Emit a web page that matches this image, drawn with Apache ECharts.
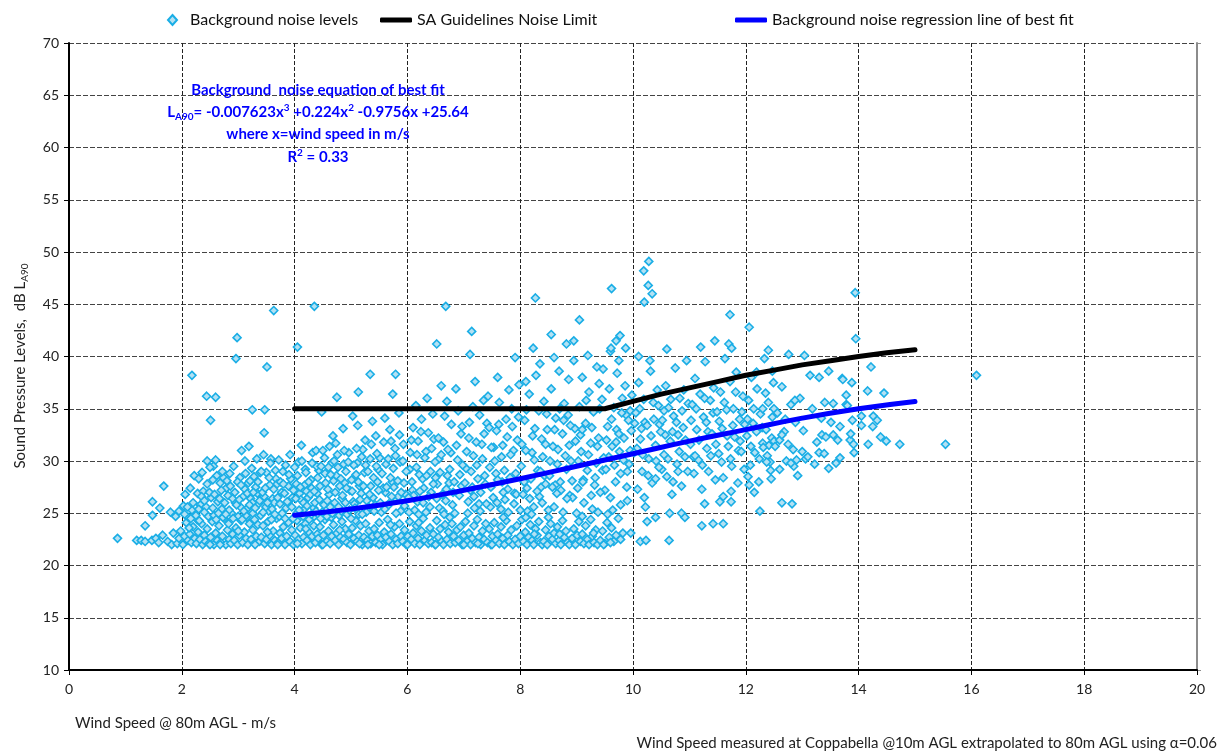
<!DOCTYPE html>
<html><head><meta charset="utf-8">
<script src="https://cdn.jsdelivr.net/npm/echarts@6/dist/echarts.min.js"></script>
<style>html,body{margin:0;padding:0;background:#fff}#chart{width:1229px;height:754px}</style>
</head><body><div id="chart"></div>
<script>
// ---- axis settings ----
const xRange = [0, 20], xStep = 2;
const yRange = [10, 70], yStep = 5;

// ---- series names ----
const seriesNames = ['Background noise levels', 'SA Guidelines Noise Limit', 'Background noise regression line of best fit'];

// ---- SA guideline limit ----
const saWindSpeed = [4, 5, 6, 7, 8, 9, 9.5, 10, 10.5, 11, 11.5, 12, 12.5, 13, 13.5, 14, 14.5, 15];
const saLimit = [35, 35, 35, 35, 35, 35, 35, 35.7, 36.4, 37.0, 37.6, 38.2, 38.7, 39.2, 39.6, 40.0, 40.35, 40.65];

// ---- regression line ----
const regWindSpeed = [4, 5, 6, 7, 8, 9, 10, 11, 12, 13, 14, 15];
const regLevel = [24.8, 25.4, 26.2, 27.2, 28.3, 29.5, 30.7, 31.9, 33.0, 34.1, 35.0, 35.7];

// ---- background noise measurements [wind speed, dB] ----
const noiseLowWind = [[0.86,22.6],[1.2,22.4],[1.28,22.4],[1.35,22.3],[1.47,22.4],[1.54,22.6],[1.59,22.2],[1.66,22.9],[1.35,23.8],[1.48,24.8],[1.61,25.5],[1.48,26.1],[1.68,27.6],[1.8,25.1],[1.89,24.7],[1.85,23.1],[1.75,22.3],[1.82,22.0]];

const noiseFloor = [
[1.92,22.1],[1.95,22.6],[1.98,23.3],[2.02,22.0],[2.05,22.8],[2.08,24.1],[2.11,22.4],[2.14,23.0],[2.17,22.2],[2.2,23.7],[2.23,22.6],[2.26,22.1],[2.29,23.2],[2.32,22.5],[2.35,24.0],[2.37,22.0],[2.4,22.9],[2.13,23.6],[2.27,24.4],
[2.42,22.3],[2.45,23.5],[2.48,22.1],[2.51,22.7],[2.54,24.2],[2.57,22.0],[2.6,23.1],[2.63,22.4],[2.66,23.8],[2.69,22.2],[2.72,22.8],[2.75,24.5],[2.78,22.0],[2.81,23.4],[2.84,22.5],[2.87,22.1],[2.9,23.0],[2.5,22.0],[2.68,22.0],[2.83,24.0],
[2.93,22.4],[2.96,23.6],[2.99,22.0],[3.02,22.9],[3.05,24.3],[3.08,22.2],[3.11,23.2],[3.14,22.6],[3.17,22.0],[3.2,24.0],[3.23,22.5],[3.26,23.4],[3.29,22.1],[3.32,22.8],[3.35,23.9],[3.38,22.3],[3.0,23.3],[3.15,24.6],[3.3,22.0],
[3.41,22.7],[3.44,23.8],[3.47,22.1],[3.5,22.5],[3.53,24.2],[3.56,22.9],[3.59,22.0],[3.62,23.3],[3.65,22.4],[3.68,24.5],[3.71,22.2],[3.74,23.1],[3.77,22.6],[3.8,23.7],[3.83,22.0],[3.86,22.8],[3.89,24.1],[3.52,23.2],[3.7,22.0],
[3.92,22.3],[3.95,23.4],[3.98,22.0],[4.01,22.9],[4.04,24.3],[4.07,22.5],[4.1,23.6],[4.13,22.1],[4.16,22.7],[4.19,24.0],[4.22,22.4],[4.25,23.2],[4.28,22.0],[4.31,22.8],[4.34,23.8],[4.37,22.2],[4.4,23.0],[4.05,22.1],[4.2,23.5],[4.33,24.6],
[4.42,22.6],[4.45,23.7],[4.48,22.0],[4.51,22.9],[4.54,24.4],[4.57,22.3],[4.6,23.3],[4.63,22.1],[4.66,22.8],[4.69,23.9],[4.72,22.4],[4.75,23.1],[4.78,22.0],[4.81,22.7],[4.84,24.2],[4.87,22.5],[4.9,23.5],[4.5,22.0],[4.65,24.6],[4.8,23.4],
[4.93,22.2],[4.96,23.0],[4.99,22.0],[5.02,23.6],[5.05,22.6],[5.08,24.3],[5.11,22.3],[5.14,22.9],[5.17,23.8],[5.2,22.0],[5.23,22.7],[5.26,24.0],[5.29,22.4],[5.32,23.3],[5.35,22.1],[5.38,22.8],[5.0,24.5],[5.15,22.1],[5.3,22.0],
[5.41,23.5],[5.44,22.2],[5.47,22.9],[5.5,24.1],[5.53,22.5],[5.56,22.0],[5.59,23.2],[5.62,22.7],[5.65,24.4],[5.68,22.3],[5.71,23.0],[5.74,22.0],[5.77,23.7],[5.8,22.5],[5.83,22.1],[5.86,24.0],[5.89,22.8],[5.5,22.0],[5.7,23.9],
[5.92,22.3],[5.95,23.4],[5.98,22.0],[6.01,22.8],[6.04,24.2],[6.07,22.5],[6.1,23.1],[6.13,22.1],[6.16,23.8],[6.19,22.6],[6.22,22.0],[6.25,23.3],[6.28,24.5],[6.31,22.4],[6.34,22.9],[6.37,22.1],[6.4,23.6],[6.0,22.0],[6.2,24.1],
[6.43,22.2],[6.46,23.0],[6.49,22.0],[6.52,24.3],[6.55,22.7],[6.58,23.5],[6.61,22.3],[6.64,22.0],[6.67,23.9],[6.7,22.5],[6.73,23.2],[6.76,22.1],[6.79,24.0],[6.82,22.8],[6.85,22.2],[6.88,23.4],[6.5,22.0],[6.75,24.6],
[6.91,22.4],[6.94,23.7],[6.97,22.0],[7.0,22.9],[7.03,24.2],[7.06,22.3],[7.09,23.1],[7.12,22.0],[7.15,22.6],[7.18,23.8],[7.21,22.2],[7.24,24.4],[7.27,22.7],[7.3,22.0],[7.33,23.3],[7.36,22.5],[7.39,24.0],[7.0,22.0],[7.25,22.1],
[7.42,22.2],[7.45,23.5],[7.48,22.0],[7.51,22.8],[7.54,24.1],[7.57,22.4],[7.6,23.0],[7.63,22.1],[7.66,23.7],[7.69,22.6],[7.72,22.0],[7.75,24.3],[7.78,22.9],[7.81,22.3],[7.84,23.4],[7.87,22.0],[7.5,22.0],[7.7,24.6],
[7.91,22.5],[7.94,23.8],[7.97,22.1],[8.0,22.8],[8.03,24.4],[8.06,22.3],[8.09,23.2],[8.12,22.0],[8.15,22.7],[8.18,23.9],[8.21,22.4],[8.24,22.0],[8.27,23.5],[8.3,22.9],[8.33,24.2],[8.36,22.2],[8.39,22.0],[8.1,24.6],[8.25,23.0],
[8.42,22.3],[8.45,23.4],[8.48,22.0],[8.51,22.8],[8.54,24.0],[8.57,22.5],[8.6,23.1],[8.63,22.1],[8.66,23.7],[8.69,22.4],[8.72,22.0],[8.75,24.3],[8.78,22.7],[8.81,23.3],[8.84,22.2],[8.87,22.0],[8.5,24.6],[8.7,23.0],
[8.92,22.6],[8.95,23.5],[8.98,22.0],[9.01,22.9],[9.04,24.2],[9.07,22.3],[9.1,23.0],[9.13,22.1],[9.16,23.8],[9.19,22.5],[9.22,22.0],[9.25,24.4],[9.28,22.8],[9.31,22.2],[9.34,23.4],[9.37,22.0],[9.1,24.7],[9.3,23.1],
[9.42,22.4],[9.46,23.3],[9.5,22.1],[9.54,24.1],[9.58,22.7],[9.62,23.6],[9.66,22.3],[9.7,22.9],[9.74,24.5],[9.78,22.5],[9.48,22.0],[9.6,22.2],[9.82,23.1]
];

const noiseCloud = [
[1.95,25.2],[2.05,24.9],[2.1,25.6],[2.2,26.0],[2.15,27.4],[2.3,25.4],[2.35,26.6],[2.4,25.1],[2.45,27.8],[2.45,30.0],[2.5,29.4],[2.3,28.3],[2.25,24.8],[2.4,26.2],
[2.55,25.5],[2.58,26.8],[2.62,28.6],[2.65,25.0],[2.7,27.2],[2.72,29.0],[2.76,26.0],[2.8,28.1],[2.84,25.3],[2.86,27.6],[2.9,26.4],[2.92,29.5],[2.97,25.8],[2.99,28.0],[2.6,30.1],[2.68,27.9],[2.78,24.9],[2.55,28.2],
[3.02,26.3],[3.05,27.7],[3.06,31.0],[3.1,25.2],[3.13,28.8],[3.16,26.9],[3.19,31.4],[3.2,25.8],[3.24,29.3],[3.27,27.0],[3.3,25.5],[3.33,30.2],[3.35,28.0],[3.38,26.2],[3.41,29.0],[3.45,30.6],[3.48,27.4],[3.12,30.0],[3.28,28.5],[3.44,25.1],
[3.52,26.0],[3.55,28.4],[3.58,30.2],[3.6,25.4],[3.63,27.3],[3.66,29.1],[3.7,26.5],[3.72,30.1],[3.75,28.0],[3.78,25.0],[3.8,27.8],[3.84,29.6],[3.87,26.1],[3.9,28.7],[3.92,30.6],[3.95,25.6],[3.98,27.2],[3.65,24.9],[3.82,26.9],[3.57,29.8],
[4.02,26.4],[4.05,28.6],[4.08,25.3],[4.1,27.5],[4.13,30.0],[4.16,26.0],[4.19,29.2],[4.22,25.7],[4.25,28.0],[4.28,26.8],[4.31,29.8],[4.32,30.8],[4.35,27.1],[4.38,25.2],[4.41,28.4],[4.44,26.3],[4.47,29.5],[4.12,31.5],[4.3,24.9],[4.45,27.6],[4.2,28.9],[4.38,31.0],
[4.5,31.0],[4.52,25.8],[4.55,27.9],[4.58,26.2],[4.62,31.4],[4.64,28.7],[4.67,25.0],[4.7,30.0],[4.72,27.0],[4.76,30.6],[4.78,25.6],[4.82,28.3],[4.85,26.7],[4.88,31.0],[4.91,29.0],[4.95,29.9],[4.97,25.3],[4.6,29.4],[4.8,27.6],[4.9,26.0],[4.68,32.4],[4.86,33.1],
[5.02,27.1],[5.05,29.6],[5.07,25.5],[5.1,31.2],[5.13,28.0],[5.16,26.3],[5.19,30.4],[5.22,27.6],[5.25,32.0],[5.27,25.1],[5.3,29.0],[5.33,26.8],[5.36,31.6],[5.4,28.4],[5.43,25.8],[5.46,30.7],[5.49,27.2],[5.12,33.4],[5.38,33.8],[5.2,24.9],[5.45,29.5],
[5.52,26.0],[5.55,28.8],[5.58,31.8],[5.6,25.4],[5.63,27.5],[5.66,30.2],[5.69,33.0],[5.72,26.6],[5.75,29.3],[5.78,31.2],[5.8,25.0],[5.83,28.1],[5.86,32.5],[5.89,27.0],[5.92,30.0],[5.95,25.7],[5.98,29.0],[5.6,34.1],[5.85,34.6],[5.7,28.4],
[6.02,26.5],[6.05,30.8],[6.08,28.0],[6.1,33.2],[6.13,25.3],[6.16,29.4],[6.19,31.9],[6.22,27.1],[6.25,34.0],[6.28,26.0],[6.31,30.3],[6.34,28.6],[6.37,32.7],[6.4,25.6],[6.43,31.2],[6.46,27.8],[6.49,29.9],[6.15,35.3],[6.35,36.0],[6.45,34.5],[6.2,24.9],
[6.52,26.4],[6.55,32.2],[6.58,28.9],[6.6,30.6],[6.63,25.2],[6.66,34.3],[6.69,27.3],[6.72,31.1],[6.75,29.2],[6.78,33.5],[6.8,25.8],[6.83,28.0],[6.86,36.9],[6.89,30.1],[6.92,26.7],[6.95,32.6],[6.98,29.6],[6.6,37.2],[6.7,35.7],[6.9,34.8],[6.65,24.9],
[7.02,27.9],[7.05,30.9],[7.08,26.1],[7.1,33.7],[7.13,29.0],[7.16,35.2],[7.19,25.5],[7.22,31.8],[7.25,28.3],[7.28,34.4],[7.3,27.0],[7.33,30.2],[7.36,32.6],[7.4,25.9],[7.43,36.2],[7.46,29.4],[7.49,31.3],[7.2,37.6],[7.35,35.8],[7.15,27.5],[7.45,33.2],
[7.52,26.5],[7.55,30.0],[7.58,32.9],[7.6,28.2],[7.63,35.6],[7.66,25.4],[7.69,31.5],[7.72,29.1],[7.75,34.0],[7.78,27.3],[7.8,36.8],[7.83,30.6],[7.86,33.3],[7.89,25.9],[7.92,28.8],[7.95,32.0],[7.98,37.3],[7.6,38.0],[7.85,35.0],[7.7,27.0],
[8.02,29.5],[8.05,26.8],[8.08,33.9],[8.1,31.0],[8.13,25.2],[8.16,36.4],[8.19,28.3],[8.22,32.4],[8.25,30.1],[8.28,38.2],[8.3,27.1],[8.33,34.8],[8.36,29.0],[8.39,26.0],[8.42,35.7],[8.45,31.6],[8.48,33.0],[8.1,37.6],[8.35,39.3],[8.2,24.9],[8.45,27.8],[8.4,30.4],
[8.52,28.6],[8.55,36.9],[8.58,31.4],[8.6,25.6],[8.63,34.1],[8.66,29.7],[8.69,38.6],[8.72,27.2],[8.75,32.6],[8.78,35.5],[8.8,30.5],[8.83,26.4],[8.86,37.8],[8.89,33.4],[8.92,28.1],[8.95,39.6],[8.98,31.9],[8.6,39.9],[8.7,35.0],[8.9,30.0],[8.65,26.9],[8.85,34.4],
[9.02,27.4],[9.05,35.2],[9.08,30.9],[9.1,38.0],[9.13,26.0],[9.16,33.6],[9.19,29.1],[9.22,36.6],[9.25,31.7],[9.28,25.4],[9.3,34.7],[9.33,28.4],[9.36,39.0],[9.39,32.2],[9.42,27.0],[9.45,35.9],[9.48,30.3],[9.2,40.1],[9.4,37.4],[9.1,33.0],[9.35,29.8],[9.47,38.8],
[9.52,29.2],[9.55,33.3],[9.58,36.9],[9.6,26.5],[9.63,31.4],[9.66,35.1],[9.69,28.0],[9.72,38.4],[9.75,32.6],[9.78,25.8],[9.8,34.6],[9.83,30.1],[9.86,37.2],[9.89,27.5],[9.92,33.9],[9.95,31.0],[9.98,36.3],[9.6,40.5],[9.75,39.6],[9.9,29.0],[9.55,24.9],[9.95,34.8],[9.7,31.8],
[10.02,30.8],[10.05,34.6],[10.08,27.3],[10.1,37.5],[10.13,32.1],[10.16,29.0],[10.19,35.9],[10.22,25.6],[10.25,33.4],[10.28,30.2],[10.31,38.6],[10.34,27.9],[10.37,34.0],[10.4,31.5],[10.43,36.8],[10.46,29.4],[10.49,32.8],[10.1,40.0],[10.3,39.6],[10.2,26.5],[10.45,35.3],[10.15,33.1],[10.4,28.3],
[10.52,33.9],[10.55,30.6],[10.58,37.2],[10.6,28.5],[10.63,35.1],[10.66,31.9],[10.69,26.8],[10.72,34.3],[10.75,38.9],[10.78,29.7],[10.8,32.5],[10.83,36.0],[10.86,27.6],[10.89,33.2],[10.92,30.4],[10.95,39.6],[10.98,35.5],[10.6,40.7],[10.8,29.0],[10.7,32.8],[10.9,36.8],[10.55,34.8],
[11.02,31.6],[11.05,35.4],[11.08,28.8],[11.1,37.9],[11.13,33.0],[11.16,30.1],[11.19,36.4],[11.22,27.3],[11.25,34.2],[11.28,39.5],[11.31,31.2],[11.34,29.0],[11.37,35.8],[11.4,32.6],[11.43,37.0],[11.46,28.2],[11.49,34.7],[11.2,40.9],[11.45,41.5],[11.1,30.5],[11.3,33.7],
[11.52,30.7],[11.55,36.6],[11.58,33.1],[11.6,28.4],[11.63,39.8],[11.66,34.9],[11.69,31.4],[11.72,37.6],[11.75,29.5],[11.78,35.0],[11.8,32.3],[11.83,38.5],[11.86,27.9],[11.89,34.0],[11.92,30.9],[11.95,36.2],[11.98,33.5],[11.7,41.2],[11.75,40.8],[11.6,26.6],[11.9,31.9],
[12.02,32.4],[12.05,35.8],[12.08,29.6],[12.1,38.0],[12.13,33.6],[12.16,30.8],[12.2,36.9],[12.23,28.0],[12.26,34.5],[12.3,31.7],[12.33,39.8],[12.36,33.0],[12.4,35.6],[12.43,29.9],[12.46,32.2],[12.49,37.5],[12.15,27.0],[12.38,30.5],[12.3,35.0],
[12.04,28.5],[12.06,27.7],[12.19,38.5],[12.31,31.3],[12.37,29.9],[12.4,40.6],[12.44,29.1],[12.45,28.3],[12.47,38.6],[12.5,35.0],[12.5,31.9],
[12.52,31.4],[12.56,34.6],[12.6,29.2],[12.64,37.1],[12.68,32.8],[12.72,30.0],[12.76,40.2],[12.8,35.4],[12.84,31.1],[12.88,33.7],[12.92,28.6],[12.96,36.0],[12.6,32.0],[12.85,29.5],[12.7,34.0],[12.64,32.5],[12.75,31.6],[12.8,29.8],[12.87,35.8],[12.9,30.1],
[13.0,30.9],[13.02,32.9],[13.04,40.1],[13.06,30.2],[13.1,30.4],[13.14,38.2],[13.18,35.0],[13.22,29.7],[13.26,31.8],[13.3,38.0],[13.3,30.8],[13.34,34.1],[13.35,32.5],[13.39,30.7],[13.4,35.6],[13.42,32.3],[13.47,29.3],[13.47,38.6],
[13.51,33.7],[13.55,35.5],[13.55,32.5],[13.6,29.8],[13.63,32.0],[13.67,33.3],[13.67,30.3],[13.71,37.9],[13.72,37.8],[13.78,36.3],[13.78,35.4],[13.8,35.3],[13.85,32.0],[13.86,32.6],[13.88,37.5],[13.89,33.9],[13.91,31.6],[13.92,30.8],
[14.05,34.3],[14.05,33.4],[14.22,39.0],[14.16,36.7],[14.45,36.5],[14.26,34.3],[14.33,33.9],[14.25,33.3],[14.17,31.6],[14.39,32.3],[14.49,31.9],[14.73,31.6]
];

const noiseCloudLower = [
[2.03,25.7],[2.12,24.6],[2.18,25.3],[2.28,26.9],[2.33,25.8],[2.38,27.1],[2.47,24.7],[2.52,26.5],[2.57,24.8],[2.64,26.1],[2.71,25.4],[2.74,28.4],[2.82,26.7],[2.88,25.0],[2.94,27.0],[3.0,24.7],[3.04,25.6],[3.09,26.6],[3.14,24.8],[3.18,27.9],[3.22,26.4],[3.26,25.0],[3.31,27.5],[3.36,25.9],[3.4,24.8],[3.46,26.6],[3.5,28.9],[3.54,25.2],[3.61,26.4],[3.67,28.3],[3.73,24.7],[3.77,27.0],[3.85,25.5],[3.89,27.6],[3.96,26.5],[4.0,29.4],[4.04,25.0],[4.09,26.9],[4.15,24.7],[4.18,27.7],[4.24,26.5],[4.29,28.2],[4.34,25.5],[4.4,26.9],[4.43,29.1],[4.49,25.1],[4.54,28.8],[4.57,24.7],[4.61,26.8],[4.66,29.8],[4.71,26.0],[4.74,28.6],[4.79,24.8],[4.84,26.4],[4.89,27.9],[4.93,24.9],[4.98,27.2],[5.04,26.1],[5.09,28.7],[5.14,24.9],[5.18,26.9],[5.24,28.9],[5.28,26.2],[5.35,27.6],[5.41,25.2],[5.48,29.2],[5.54,25.1],[5.61,27.0],[5.67,25.9],[5.73,28.0],[5.81,26.3],[5.88,25.2],[5.94,27.9],[6.03,25.1],[6.09,27.2],[6.18,26.1],[6.27,28.3],[6.33,25.1],[6.42,27.0],[6.5,28.4],[6.57,25.5],[6.68,26.2],[6.74,27.9],[6.84,25.0],[6.96,27.6],[7.07,25.0],[7.18,26.6],[7.29,25.2],[7.38,27.8],[7.47,25.6],[7.59,26.0],[7.68,28.0],[7.79,25.1],[7.9,26.9],[8.0,25.3],[8.12,27.4],[8.24,25.6],[8.37,27.5],[8.5,25.3],[8.62,27.7],[8.76,25.1],[8.88,26.7],[9.0,25.0],[9.12,28.2],[9.26,26.7],[9.38,25.1],[9.5,27.2],[9.64,25.3],[9.78,28.8],[9.9,26.2],
[9.96,23.1],[10.13,22.3],[10.23,22.4],[10.64,22.4],[10.25,24.2],[10.4,24.6],[10.65,25.0],[10.86,25.0],[10.92,24.6],[11.22,23.8],[11.42,24.0],[11.6,24.0],[11.27,25.9],[11.54,26.1],[11.74,26.1],[11.74,27.1],[12.25,25.2],[12.64,26.0],[12.82,25.9]
];

const noiseCloudExtra = [
[2.06,26.8],[2.16,24.5],[2.22,28.6],[2.31,24.3],[2.36,28.9],[2.43,25.6],[2.49,27.0],[2.56,29.5],[2.61,24.4],[2.67,26.4],[2.73,24.6],[2.79,27.4],[2.85,28.8],[2.91,24.5],[2.95,26.0],[3.03,28.4],[3.07,24.4],[3.12,27.3],[3.17,25.5],[3.21,28.1],[3.25,26.0],[3.29,24.4],[3.34,26.9],[3.39,28.9],[3.43,27.0],[3.49,25.6],[3.56,27.7],[3.59,24.4],[3.64,26.0],[3.69,27.8],[3.74,25.9],[3.79,29.0],[3.83,24.5],[3.88,26.0],[3.93,28.3],[3.97,24.5],[4.03,27.8],[4.07,29.9],[4.11,26.3],[4.17,25.4],[4.21,27.1],[4.26,24.4],[4.3,27.4],[4.36,26.0],[4.39,29.5],[4.46,24.5],
[4.53,30.3],[4.59,27.3],[4.63,25.6],[4.69,28.1],[4.73,31.7],[4.77,29.4],[4.83,25.2],[4.87,29.7],[4.92,27.4],[4.96,30.8],[5.01,28.2],[5.06,25.9],[5.11,29.8],[5.15,27.6],[5.21,31.1],[5.26,29.6],[5.31,25.6],[5.34,30.2],[5.39,26.5],[5.44,32.4],[5.47,28.0],[5.51,30.3],[5.57,27.4],[5.62,29.7],[5.65,25.7],[5.71,31.9],[5.76,27.5],[5.79,30.5],[5.84,26.6],[5.87,29.9],[5.93,31.6],[5.97,26.8],[6.04,29.2],[6.07,32.0],[6.11,26.7],[6.17,30.6],[6.21,28.7],[6.24,32.8],[6.29,27.4],[6.33,30.9],[6.38,26.6],[6.41,29.0],[6.47,32.1],[6.53,27.8],[6.56,30.2],[6.62,26.8],[6.64,31.8],[6.71,28.6],[6.77,30.8],[6.81,27.0],[6.87,31.5],[6.93,28.7],[6.97,33.3],[7.04,29.3],[7.09,32.2],[7.12,27.2],[7.17,30.5],[7.23,29.6],[7.27,25.9],[7.32,31.6],[7.37,28.6],[7.41,33.6],[7.48,27.5],[7.53,31.3],[7.57,28.8],[7.62,33.5],[7.67,30.4],[7.73,26.3],[7.77,32.3],[7.82,28.4],[7.88,31.0],[7.93,26.8],[7.97,34.2],[8.03,31.6],[8.07,28.0],[8.11,34.9],[8.17,26.4],[8.21,30.8],[8.26,33.1],[8.31,29.1],[8.34,26.6],[8.38,32.1],[8.43,28.6],[8.47,34.5],[8.53,30.0],[8.57,27.5],[8.61,33.0],[8.67,31.1],[8.71,28.0],[8.77,33.9],[8.82,29.2],[8.87,31.5],[8.93,26.5],[8.97,33.1],[9.03,30.0],[9.07,32.5],[9.11,28.0],[9.17,35.8],[9.21,30.6],[9.27,33.2],[9.32,27.7],[9.37,31.4],[9.41,35.0],[9.46,29.1],
[9.53,32.0],[9.57,30.4],[9.62,34.0],[9.67,29.6],[9.71,33.0],[9.76,30.9],[9.81,36.0],[9.84,32.2],[9.88,34.4],[9.93,29.7],[9.97,32.9],[10.03,33.6],[10.07,31.2],[10.12,35.0],[10.17,30.6],[10.21,33.7],[10.27,28.6],[10.32,32.4],[10.36,35.6],[10.41,30.0],[10.47,33.5],[10.51,29.2],[10.57,32.5],[10.62,30.2],[10.67,35.9],[10.71,28.0],[10.77,33.7],[10.82,30.9],[10.87,34.8],[10.93,32.0],[10.97,29.0],[11.03,33.9],[11.07,30.4],[11.12,35.0],[11.17,32.0],[11.23,29.6],[11.27,36.0],[11.33,32.8],[11.38,30.5],[11.42,34.6],[11.47,31.6],[11.53,33.8],[11.57,29.9],[11.62,35.6],[11.67,32.4],[11.73,30.2],[11.77,33.4],[11.82,36.6],[11.87,31.0],[11.93,34.7],[11.97,29.2],[12.03,34.0],[12.09,31.4],[12.14,35.0],[12.19,32.8],[12.24,30.2],[12.29,33.2],[12.35,36.5],[12.41,31.5],[12.47,34.2]
];

const noiseOutliers = [
[2.18,38.2],[2.44,36.2],[2.6,36.1],[2.51,33.9],[2.98,41.8],[2.96,39.8],[3.25,34.9],[3.47,34.9],[3.46,32.7],[3.51,39.0],[3.63,44.4],[4.05,40.9],[4.35,44.8],[4.75,36.1],[5.03,34.3],[5.13,36.6],[4.48,34.7],[5.34,38.3],[5.79,38.3],[5.74,36.4],[6.52,41.2],[6.68,44.8],[7.14,42.4],[7.11,40.2],[7.91,39.9],[8.27,45.6],[8.23,40.8],[8.55,42.1],[8.82,41.2],[8.95,41.5],[9.05,43.5],[9.62,46.5],[9.7,41.5],[9.77,42.0],[9.87,40.8],[9.61,40.8],[10.28,49.1],[10.19,48.2],[10.27,46.8],[10.34,46.0],[10.2,45.2],[11.72,44.0],[12.06,42.8],[13.94,46.1],[13.95,41.7],[16.09,38.2],[15.54,31.6]
];

const backgroundNoise = [].concat(noiseLowWind, noiseFloor, noiseCloudLower, noiseCloudExtra, noiseCloud, noiseOutliers);
const saLine = saWindSpeed.map((x, i) => [x, saLimit[i]]);
const regLine = regWindSpeed.map((x, i) => [x, regLevel[i]]);

const FONT = 'Lato, "Liberation Sans", sans-serif';
const BLUE_TXT = '#0000ff';

const chart = echarts.init(document.getElementById('chart'), null, {renderer: 'canvas'});

function eqText(y, text, rich) {
  return {
    type: 'text', x: 318, y: y, z: 100,
    style: {
      text: text, fill: BLUE_TXT, font: 'bold 15px ' + FONT,
      align: 'center', verticalAlign: 'middle',
      textAlign: 'center', textVerticalAlign: 'middle',
      rich: rich || {}
    }
  };
}
const eqRich = {
  b: {fontSize: 15, fontWeight: 'bold', fontFamily: FONT, fill: BLUE_TXT, color: BLUE_TXT, lineHeight: 19, verticalAlign: 'middle'},
  sub: {fontSize: 10, fontWeight: 'bold', fontFamily: FONT, fill: BLUE_TXT, color: BLUE_TXT, lineHeight: 11, verticalAlign: 'bottom'},
  sup: {fontSize: 10, fontWeight: 'bold', fontFamily: FONT, fill: BLUE_TXT, color: BLUE_TXT, lineHeight: 11, verticalAlign: 'top'}
};

const legendBase = {
  top: 7, itemGap: 0, textStyle: {fontFamily: FONT, fontSize: 16, color: '#111'}
};

chart.setOption({
  animation: false,
  backgroundColor: '#fff',
  grid: {left: 69, right: 32, top: 43, bottom: 84, containLabel: false},
  legend: [
    Object.assign({}, legendBase, {left: 162, data: [{name: seriesNames[0], icon: 'diamond'}], itemWidth: 9, itemHeight: 10,
      textStyle: {fontFamily: FONT, fontSize: 16, color: '#111', padding: [0, 0, 0, 8]}}),
    Object.assign({}, legendBase, {left: 375, data: [{name: seriesNames[1], icon: 'roundRect'}], itemWidth: 32, itemHeight: 5}),
    Object.assign({}, legendBase, {left: 730, data: [{name: seriesNames[2], icon: 'roundRect'}], itemWidth: 32, itemHeight: 5})
  ],
  xAxis: {
    type: 'value', min: xRange[0], max: xRange[1], interval: xStep,
    axisLine: {show: true, onZero: false, lineStyle: {color: '#000', width: 2}},
    axisTick: {show: true, length: 5, lineStyle: {color: '#000', width: 1}},
    axisLabel: {fontFamily: FONT, fontSize: 14, color: '#222', margin: 12},
    splitLine: {show: true, lineStyle: {color: '#222', type: [4, 2], width: 1}}
  },
  yAxis: [{
    type: 'value', min: yRange[0], max: yRange[1], interval: yStep, position: 'left',
    axisLine: {show: true, onZero: false, lineStyle: {color: '#000', width: 2}},
    axisTick: {show: true, length: 5, lineStyle: {color: '#000', width: 1}},
    axisLabel: {fontFamily: FONT, fontSize: 14, color: '#222', margin: 10},
    splitLine: {show: true, lineStyle: {color: '#444', type: [5, 2], width: 1}}
  }, {
    type: 'value', min: yRange[0], max: yRange[1], interval: yStep, position: 'right',
    axisLine: {show: true, onZero: false, lineStyle: {color: '#8c8c8c', width: 2}},
    axisTick: {show: true, length: 4, lineStyle: {color: '#8c8c8c', width: 1}},
    axisLabel: {show: false},
    splitLine: {show: false}
  }],
  series: [{
    name: seriesNames[0], type: 'scatter', data: backgroundNoise,
    symbol: 'diamond', symbolSize: 8, z: 2,
    itemStyle: {color: '#b3e1f3', borderColor: '#1aaee6', borderWidth: 1.6, opacity: 1}
  }, {
    name: seriesNames[1], type: 'line', data: saLine, symbol: 'none', smooth: false, z: 5,
    lineStyle: {color: '#000', width: 5, cap: 'round', join: 'round'},
    itemStyle: {color: '#000'}
  }, {
    name: seriesNames[2], type: 'line', data: regLine, symbol: 'none', smooth: true, z: 6,
    lineStyle: {color: '#0000ff', width: 5, cap: 'round', join: 'round'},
    itemStyle: {color: '#0000ff'}
  }],
  graphic: [
    eqText(90, 'Background  noise equation of best fit'),
    eqText(112, '{b|L}{sub|A90}{b|= -0.007623x}{sup|3}{b| +0.224x}{sup|2}{b| -0.9756x +25.64}', eqRich),
    eqText(134, 'where x=wind speed in m/s'),
    eqText(157, '{b|R}{sup|2}{b| = 0.33}', eqRich),
    {
      type: 'text', x: 20, y: 366, rotation: Math.PI / 2, z: 100,
      style: {
        text: '{m|Sound Pressure Levels,  dB L}{s|A90}',
        align: 'center', verticalAlign: 'middle', textAlign: 'center', textVerticalAlign: 'middle',
        rich: {
          m: {fontSize: 15, fontFamily: FONT, fill: '#222', color: '#222', lineHeight: 19, verticalAlign: 'middle'},
          s: {fontSize: 10, fontFamily: FONT, fill: '#222', color: '#222', lineHeight: 11, verticalAlign: 'bottom'}
        }
      }
    },
    {
      type: 'text', x: 75, y: 723, z: 100,
      style: {text: 'Wind Speed @ 80m AGL - m/s', font: '15px ' + FONT, fill: '#222',
        align: 'left', verticalAlign: 'middle', textAlign: 'left', textVerticalAlign: 'middle'}
    },
    {
      type: 'text', x: 1217, y: 743, z: 100,
      style: {text: 'Wind Speed measured at Coppabella @10m AGL extrapolated to 80m AGL using α=0.06', font: '15px ' + FONT, fill: '#222',
        align: 'right', verticalAlign: 'middle', textAlign: 'right', textVerticalAlign: 'middle'}
    }
  ]
});
</script></body></html>
